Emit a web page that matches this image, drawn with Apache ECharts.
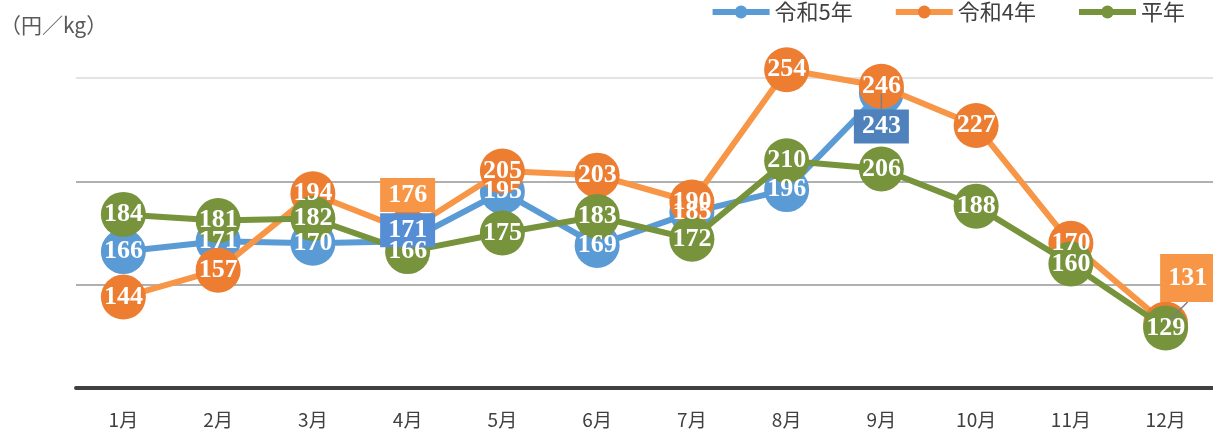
<!DOCTYPE html>
<html>
<head>
<meta charset="utf-8">
<script src="https://cdn.jsdelivr.net/npm/echarts@6/dist/echarts.min.js"></script>
<style>
html, body { margin: 0; padding: 0; background: #fff; }
#chart { width: 1213px; height: 430px; }
</style>
</head>
<body>
<div id="chart"></div>
<script>
var months = ['1月', '2月', '3月', '4月', '5月', '6月', '7月', '8月', '9月', '10月', '11月', '12月'];
var r5 = [166, 171, 170, 171, 195, 169, 185, 196, 243, null, null, null];
var r4 = [144, 157, 194, 176, 205, 203, 190, 254, 246, 227, 170, 131];
var avg = [184, 181, 182, 166, 175, 183, 172, 210, 206, 188, 160, 129];

// 手で動かしたラベル
var moved = {
    '令和5年': { 3: { dx: 0, dy: -11, bg: '#558ed5', line: false }, 8: { dx: 0, dy: 34, bg: '#4f81bd', line: true } },
    '令和4年': { 3: { dx: 0, dy: -36, bg: '#f79646', line: false }, 11: { dx: 22, dy: -46, bg: '#f79646', line: true, pad: [11, 8] } }
};

var labelFont = { color: '#fff', fontFamily: 'Liberation Serif', fontWeight: 'bold', fontSize: 26 };

function mainSeries(name, data, lineColor, markColor, z) {
    return {
        name: name,
        type: 'line',
        data: data,
        z: z,
        clip: false,
        symbol: 'circle',
        symbolSize: 45,
        lineStyle: { color: lineColor, width: 6 },
        itemStyle: { color: markColor },
        label: { show: false },
        emphasis: { disabled: true }
    };
}

function labelSeries(name, data) {
    var m = moved[name] || {};
    var items = data.map(function (v, i) {
        if (v == null) return null;
        var s = m[i];
        if (!s) return v;
        return {
            value: v,
            label: { backgroundColor: s.bg, padding: s.pad || [4, 8] },
            labelLine: { show: s.line, lineStyle: { color: '#7f7f7f', width: 1.5 } }
        };
    });
    return {
        name: name + '_label',
        type: 'line',
        data: items,
        z: 10,
        clip: false,
        silent: true,
        symbol: 'circle',
        symbolSize: 2,
        itemStyle: { color: 'transparent' },
        lineStyle: { width: 0, opacity: 0 },
        label: Object.assign({ show: true, position: 'inside' }, labelFont),
        labelLayout: function (p) {
            var s = m[p.dataIndex];
            return s ? { dx: s.dx, dy: s.dy } : {};
        },
        emphasis: { disabled: true }
    };
}

var chart = echarts.init(document.getElementById('chart'));
chart.setOption({
    animation: false,
    textStyle: { fontFamily: 'Noto Sans CJK JP' },
    graphic: [{
        type: 'text', left: 0, top: 15,
        style: { text: '（円／kg）', fontSize: 21, fill: '#595959', fontFamily: 'Noto Sans CJK JP' }
    }],
    legend: {
        data: ['令和5年', '令和4年', '平年'],
        right: 28,
        top: 1,
        padding: 0,
        itemWidth: 57,
        itemHeight: 16,
        itemGap: 40,
        lineStyle: { width: 6 },
        textStyle: { fontSize: 22, color: '#404040' }
    },
    grid: { left: 76, top: 78, width: 1146, height: 310 },
    xAxis: {
        type: 'category',
        data: months,
        axisLine: { lineStyle: { color: '#404040', width: 4 } },
        axisTick: { show: false },
        axisLabel: { fontSize: 19, color: '#404040', margin: 22 }
    },
    yAxis: {
        type: 'value',
        min: 100,
        max: 250,
        interval: 50,
        axisLabel: { show: false },
        axisLine: { show: false },
        axisTick: { show: false },
        splitLine: { lineStyle: { color: ['#b0b0b0', '#b0b0b0', '#b0b0b0', '#e3e3e3'], width: 2 } }
    },
    series: [
        mainSeries('令和5年', r5, '#5b9bd5', '#5b9bd5', 2),
        mainSeries('令和4年', r4, '#f79646', '#ed7d31', 3),
        mainSeries('平年', avg, '#77933c', '#77933c', 4),
        labelSeries('令和5年', r5),
        labelSeries('令和4年', r4),
        labelSeries('平年', avg)
    ]
});
</script>
</body>
</html>
